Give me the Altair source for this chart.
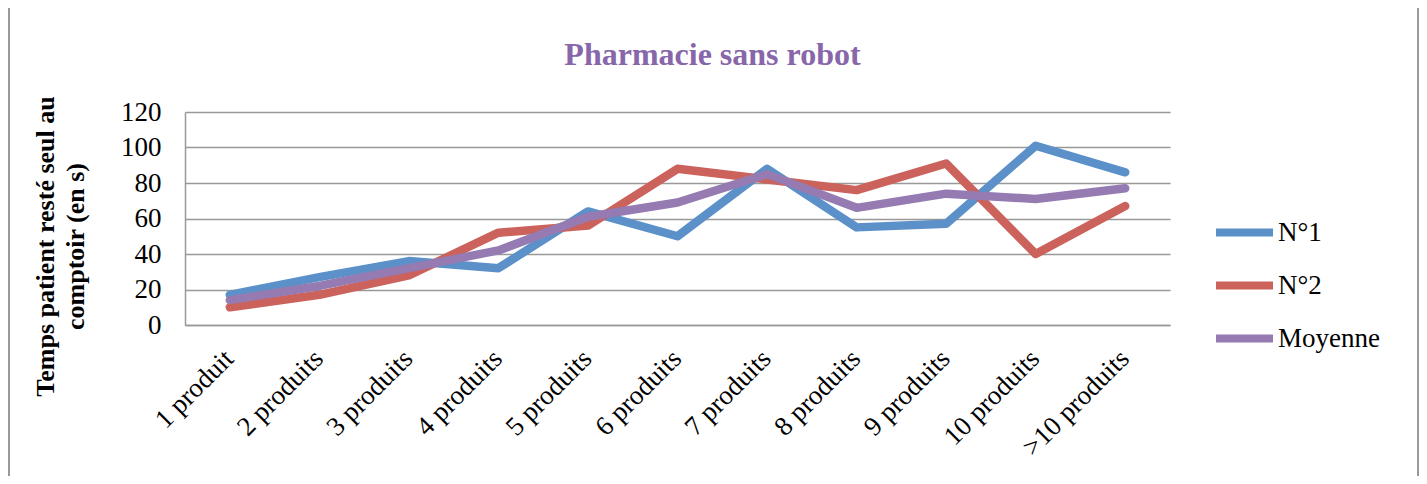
import altair as alt
import pandas as pd

categories = ["1 produit", "2 produits", "3  produits", "4 produits", "5 produits",
              "6 produits", "7 produits", "8 produits", "9 produits", "10 produits",
              ">10 produits"]
n1 = [17, 27, 36, 32, 64, 50, 88, 55, 57, 101, 86]
n2 = [10, 17, 28, 52, 56, 88, 82, 76, 91, 40, 67]
moyenne = [14, 22, 32, 42, 61, 69, 85, 66, 74, 71, 77]
series = ["N°1", "N°2", "Moyenne"]
colors = ["#5B90C9", "#CB625B", "#957BB2"]
y_ticks = [0, 20, 40, 60, 80, 100, 120]

rows = []
for s, vals in zip(series, [n1, n2, moyenne]):
    for i, (c, v) in enumerate(zip(categories, vals)):
        rows.append({"cat": c, "val": v, "serie": s, "k": series.index(s)})
df = pd.DataFrame(rows)

FONT = "Liberation Serif"

lines = alt.Chart(df).mark_line(strokeWidth=8.5, strokeCap="round", strokeJoin="round").encode(
    x=alt.X("cat:N", sort=categories, title=None,
            axis=alt.Axis(labelAngle=-45, labelFont=FONT, labelFontSize=27, labelColor="black",
                          ticks=False, grid=False, domainColor="#999999", domainWidth=1.5,
                          labelPadding=20, labelOffset=-10)),
    y=alt.Y("val:Q", scale=alt.Scale(domain=[0, 120], nice=False),
            title=["Temps patient resté seul au", "comptoir (en s)"],
            axis=alt.Axis(values=y_ticks, labelFont=FONT, labelFontSize=27, labelColor="black",
                          ticks=False, grid=True, gridColor="#999999", gridWidth=1.5,
                          domainColor="#999999", domainWidth=1.5, labelPadding=24,
                          titleFont=FONT, titleFontSize=26, titleFontWeight="bold",
                          titleColor="black", titlePadding=32, titleLineHeight=30,
                          titleY=134)),
    color=alt.Color("serie:N", scale=alt.Scale(domain=series, range=colors),
                    legend=alt.Legend(title=None, orient="none", legendX=1027, legendY=88,
                                      symbolType="stroke", symbolSize=3249, symbolStrokeWidth=8,
                                      labelFont=FONT, labelFontSize=27, labelColor="black",
                                      labelOffset=1, rowPadding=4)),
    detail="k:N",
)

border = alt.Chart(pd.DataFrame({"a": [0, 1]})).mark_rule(color="#999999", strokeWidth=2).encode(
    x=alt.X("a:Q", scale=alt.Scale(domain=[0, 1], range=[-176, 1233]), axis=None),
    y=alt.value(-104),
    y2=alt.value(364),
)

chart = alt.layer(lines, border).resolve_scale(x="independent").properties(
    width=985,
    height=213,
    autosize=alt.AutoSizeParams(type="none"),
    padding={"left": 177, "top": 104, "right": 249, "bottom": 151},
    title=alt.TitleParams("Pharmacie sans robot", font=FONT, fontSize=32, fontWeight="bold",
                          color="#8866AA", anchor="middle", dx=35, offset=-65),
).configure_view(strokeWidth=0)

chart.save("out.html", embed_options={"renderer": "svg", "actions": False})
